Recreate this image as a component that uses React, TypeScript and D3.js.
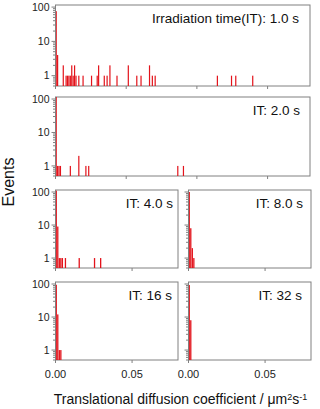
import React from 'react'
import * as d3 from 'd3'

// histogram bins: index in units of 0.001 µm²/s, and counts
const binWidth = 0.001

const p1Bins = [0, 1, 5, 7, 8, 9, 10, 11, 12, 13, 14, 16, 19, 25, 29, 30, 34, 36, 38, 43, 51, 57, 60, 66, 68, 70, 114, 124, 127, 139]
const p1Counts = [76, 4, 2, 1, 1, 1, 1, 2, 1, 2, 1, 1, 1, 1, 1, 2, 1, 1, 2, 1, 2, 1, 1, 2, 1, 1, 1, 1, 1, 1]

const p2Bins = [0, 1, 2, 3, 10, 16, 21, 23, 86, 90]
const p2Counts = [115, 1, 1, 1, 1, 2, 1, 1, 1, 1]

const p3Bins = [0, 1, 2, 3, 4, 6, 15, 25, 29]
const p3Counts = [110, 9, 1, 1, 1, 1, 1, 1, 1]

const p4Bins = [0, 1, 2, 3]
const p4Counts = [100, 8, 2, 1]

const p5Bins = [0, 1, 2, 3]
const p5Counts = [95, 12, 1, 1]

const p6Bins = [0, 1]
const p6Counts = [93, 8]

const labels = ['Irradiation time(IT): 1.0 s', 'IT: 2.0 s', 'IT: 4.0 s', 'IT: 8.0 s', 'IT: 16 s', 'IT: 32 s']
const yTicks = [1, 10, 100]
const wideXTicks = [0, 0.05, 0.1, 0.15]
const narrowXTicks = [0, 0.05]

const W = 320
const H = 409
const RED = '#e3131b'
const FRAME = '#808080'
const FONT = '"Liberation Sans", Arial, sans-serif'

interface PanelDef {
  bins: number[]
  counts: number[]
  label: string
  x0: number
  x1: number
  y0: number
  y1: number
  xMax: number
  xTicks: number[]
  showXLabels: boolean
  labelPad: number
}

const panels: PanelDef[] = [
  { bins: p1Bins, counts: p1Counts, label: labels[0], x0: 55.5, x1: 310, y0: 5, y1: 86, xMax: 0.18, xTicks: wideXTicks, showXLabels: false, labelPad: 11 },
  { bins: p2Bins, counts: p2Counts, label: labels[1], x0: 55.5, x1: 310, y0: 97, y1: 176, xMax: 0.18, xTicks: wideXTicks, showXLabels: false, labelPad: 10 },
  { bins: p3Bins, counts: p3Counts, label: labels[2], x0: 55.5, x1: 178, y0: 190, y1: 268, xMax: 0.08, xTicks: narrowXTicks, showXLabels: false, labelPad: 5 },
  { bins: p4Bins, counts: p4Counts, label: labels[3], x0: 188.5, x1: 311, y0: 190, y1: 268, xMax: 0.08, xTicks: narrowXTicks, showXLabels: false, labelPad: 8 },
  { bins: p5Bins, counts: p5Counts, label: labels[4], x0: 55.5, x1: 178, y0: 282, y1: 360, xMax: 0.08, xTicks: narrowXTicks, showXLabels: true, labelPad: 6 },
  { bins: p6Bins, counts: p6Counts, label: labels[5], x0: 188.5, x1: 311, y0: 282, y1: 360, xMax: 0.08, xTicks: narrowXTicks, showXLabels: true, labelPad: 9 },
]

function Panel({ p, idx }: { p: PanelDef; idx: number }) {
  const x = d3.scaleLinear().domain([0, p.xMax]).range([p.x0, p.x1])
  const y = d3.scaleLog().domain([0.5, 115]).range([p.y1, p.y0])
  const bw = x(binWidth) - x(0)
  const minor: number[] = []
  ;[0.1, 1, 10].forEach(dec => {
    for (let k = 1; k <= 9; k++) {
      const v = dec * k
      if (v >= 0.5 && v <= 115 && !yTicks.includes(v)) minor.push(v)
    }
  })
  const clipId = `clip-${idx}`
  const showYLabels = p.x0 < 100

  return (
    <g>
      <defs>
        <clipPath id={clipId}>
          <rect x={p.x0} y={p.y0} width={p.x1 - p.x0} height={p.y1 - p.y0} />
        </clipPath>
      </defs>
      <rect x={p.x0} y={p.y0} width={p.x1 - p.x0} height={p.y1 - p.y0} fill="#fff" stroke={FRAME} strokeWidth={1} />
      <g clipPath={`url(#${clipId})`}>
        {p.bins.map((b, i) => (
          <rect
            key={i}
            x={x(b * binWidth) + 0.1}
            y={y(p.counts[i])}
            width={Math.max(bw * 0.85, 1)}
            height={p.y1 - y(p.counts[i])}
            fill={RED}
          />
        ))}
      </g>
      {/* y axis */}
      <line x1={p.x0} x2={p.x0} y1={p.y0} y2={p.y1} stroke={FRAME} />
      {yTicks.map(t => (
        <line key={t} x1={p.x0 - 4} x2={p.x0} y1={y(t)} y2={y(t)} stroke={FRAME} />
      ))}
      {minor.map(t => (
        <line key={t} x1={p.x0 - 2.5} x2={p.x0} y1={y(t)} y2={y(t)} stroke={FRAME} />
      ))}
      {showYLabels &&
        yTicks.map(t => (
          <text key={t} x={p.x0 - 6} y={y(t) + 3.8} textAnchor="end" fontSize={10.5} fontFamily={FONT} fill="#222">
            {t}
          </text>
        ))}
      {/* x axis */}
      {p.xTicks.map(t => (
        <line key={t} x1={x(t)} x2={x(t)} y1={p.y1} y2={p.y1 + 3} stroke={FRAME} />
      ))}
      {p.showXLabels &&
        p.xTicks.map(t => (
          <text key={t} x={x(t)} y={378} textAnchor="middle" fontSize={11} fontFamily={FONT} fill="#222">
            {d3.format('.2f')(t)}
          </text>
        ))}
      <text x={p.x1 - p.labelPad} y={p.y0 + 18} textAnchor="end" fontSize={13.5} fontFamily={FONT} fill="#111">
        {p.label}
      </text>
    </g>
  )
}

export default function App() {
  return (
    <svg width={W} height={H} style={{ position: 'absolute', left: 0, top: 0, background: '#fff' }}>
      <rect width={W} height={H} fill="#fff" />
      {panels.map((p, i) => (
        <Panel key={i} p={p} idx={i} />
      ))}
      <text transform="translate(14,182) rotate(-90)" textAnchor="middle" fontSize={16} fontFamily={FONT} fill="#111">
        Events
      </text>
      <text x={180.5} y={404} textAnchor="middle" fontSize={14} fontFamily={FONT} fill="#111">
        Translational diffusion coefficient / μm
        <tspan fontSize={9} dy={-4}>2</tspan>
        <tspan dy={4}>s</tspan>
        <tspan fontSize={9} dy={-4}>-1</tspan>
      </text>
    </svg>
  )
}
